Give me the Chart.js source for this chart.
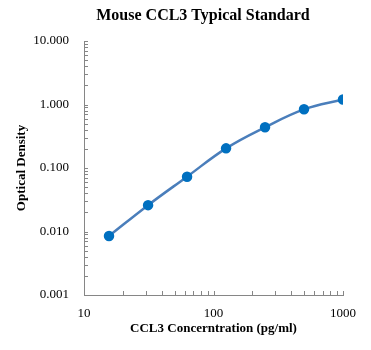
<!DOCTYPE html>
<html>
<head>
<meta charset="utf-8">
<script src="https://cdn.jsdelivr.net/npm/chart.js@4"></script>
<style>
  html, body { margin: 0; padding: 0; background: #fff; }
  #wrap { width: 371px; height: 350px; }
</style>
</head>
<body>
<div id="wrap"><canvas id="stdChart" width="371" height="350"></canvas></div>
<script>
// Standard curve data
const concentrations = [15.6, 31.25, 62.5, 125, 250, 500, 1000];
const odValues = [0.0085, 0.026, 0.073, 0.204, 0.438, 0.84, 1.2];
const xTickValues = [10, 100, 1000];
const yTickValues = [0.001, 0.01, 0.1, 1, 10];

const chartTitle = 'Mouse CCL3 Typical Standard';
const xTitle = 'CCL3 Concerntration (pg/ml)';
const yTitle = 'Optical Density';

const serif = '"Liberation Serif", "Times New Roman", serif';
const axisColor = '#868686';

// Title drawn by hand so it sits a bit left of the plot centre, like the original
const titlePlugin = {
  id: 'plainTitle',
  afterDraw(chart) {
    const ctx = chart.ctx;
    ctx.save();
    ctx.font = 'bold 16px ' + serif;
    ctx.fillStyle = '#000';
    ctx.textAlign = 'center';
    ctx.textBaseline = 'middle';
    ctx.fillText(chartTitle, 203, 16);
    ctx.restore();
  }
};

// Small inward tick marks at 1..9 x 10^n on both log axes
const minorTicks = {
  id: 'minorTicks',
  afterDraw(chart) {
    const ctx = chart.ctx;
    const xs = chart.scales.x, ys = chart.scales.y;
    ctx.save();
    ctx.strokeStyle = axisColor;
    ctx.lineWidth = 1;
    ctx.beginPath();
    for (let e = -3; e <= 1; e++) {
      for (let k = 1; k <= 9; k++) {
        const v = k * Math.pow(10, e);
        if (v < ys.min - 1e-12 || v > ys.max + 1e-9) continue;
        const py = Math.round(ys.getPixelForValue(v)) + 0.5;
        ctx.moveTo(ys.right, py);
        ctx.lineTo(ys.right + 4, py);
      }
    }
    for (let e = 1; e <= 3; e++) {
      for (let k = 1; k <= 9; k++) {
        const v = k * Math.pow(10, e);
        if (v < xs.min - 1e-9 || v > xs.max + 1e-9) continue;
        const px = Math.round(xs.getPixelForValue(v)) + 0.5;
        ctx.moveTo(px, xs.top);
        ctx.lineTo(px, xs.top - 4);
      }
    }
    ctx.stroke();
    ctx.restore();
  }
};

const points = concentrations.map((c, i) => ({ x: c, y: odValues[i] }));

new Chart(document.getElementById('stdChart').getContext('2d'), {
  type: 'line',
  data: {
    datasets: [{
      data: points,
      borderColor: '#4a7ebb',
      borderWidth: 2.5,
      backgroundColor: '#0070c0',
      pointBackgroundColor: '#0070c0',
      pointBorderColor: '#0070c0',
      pointRadius: 4,
      tension: 0.4,
      fill: false
    }]
  },
  options: {
    responsive: false,
    animation: false,
    layout: { padding: { top: 41, right: 28, left: 0, bottom: 0 } },
    plugins: {
      legend: { display: false },
      title: { display: false },
      tooltip: { enabled: false }
    },
    scales: {
      x: {
        type: 'logarithmic',
        min: 10,
        max: 1000,
        afterFit: s => { s.height = 55; },
        afterBuildTicks: s => { s.ticks = xTickValues.map(v => ({ value: v })); },
        grid: { display: false, drawTicks: false },
        border: { display: true, color: axisColor, width: 1 },
        ticks: {
          autoSkip: false,
          maxRotation: 0,
          padding: 11,
          color: '#000',
          font: { family: serif, size: 13 },
          callback: v => String(v)
        },
        title: {
          display: true,
          text: xTitle,
          color: '#000',
          font: { family: serif, size: 13, weight: 'bold' },
          padding: { top: 0, bottom: 14 }
        }
      },
      y: {
        type: 'logarithmic',
        min: 0.001,
        max: 10,
        afterFit: s => { s.width = 84; },
        afterBuildTicks: s => { s.ticks = yTickValues.map(v => ({ value: v })); },
        grid: { display: false, drawTicks: false },
        border: { display: true, color: axisColor, width: 1 },
        ticks: {
          autoSkip: false,
          padding: 15,
          color: '#000',
          font: { family: serif, size: 13 },
          callback: v => Number(v).toFixed(3)
        },
        title: {
          display: true,
          text: yTitle,
          color: '#000',
          font: { family: serif, size: 13, weight: 'bold' },
          padding: { top: 14, bottom: 0 }
        }
      }
    }
  },
  plugins: [titlePlugin, minorTicks]
});
</script>
</body>
</html>
